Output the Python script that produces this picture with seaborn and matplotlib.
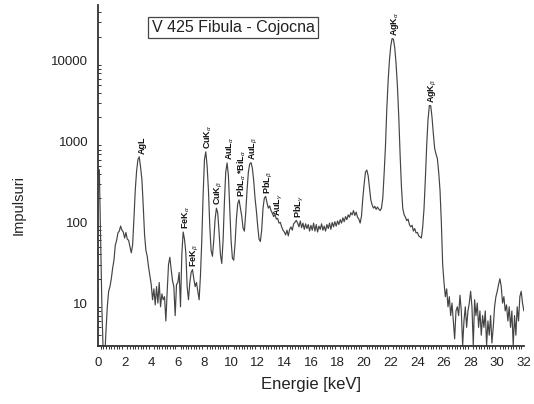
import numpy as np
import matplotlib
matplotlib.use("Agg")
import matplotlib.pyplot as plt
import matplotlib.ticker as mticker
import seaborn as sns

# channel calibration: 0.1 keV per channel starting at 0 keV
E_START = 0.0
E_STEP = 0.1

counts = [
    400, 450, 60, 8, 2.2, 2.0, 4.5, 9, 14, 16,            # 0.0-0.9
    20, 27, 34, 52, 60, 74, 78, 90, 80, 76,                # 1
    64, 75, 62, 60, 50, 42, 52, 110, 250, 430,             # 2
    600, 650, 480, 340, 160, 70, 45, 38, 28, 22,           # 3
    17, 11, 15, 9.5, 16, 10, 18, 9, 13, 11,                # 4
    12, 6, 14, 30, 37, 26, 19, 16, 7, 17,                  # 5
    18, 24, 9, 40, 76, 62, 42, 16, 11, 18,                 # 6
    24, 26, 20, 16, 18, 14, 11, 22, 60, 220,               # 7
    600, 750, 500, 250, 90, 45, 38, 60, 110, 150,          # 8
    130, 75, 40, 31, 60, 180, 420, 545, 380, 150,          # 9
    60, 36, 34, 55, 110, 170, 190, 150, 120, 85,           # 10
    78, 130, 250, 420, 530, 550, 470, 330, 200, 140,       # 11
    90, 62, 58, 80, 150, 200, 210, 175, 150, 160,          # 12
    140, 130, 118, 125, 110, 112, 98, 100, 88, 80,         # 13
    76, 70, 80, 68, 82, 88, 80, 96, 100, 106,              # 14
    98, 88, 104, 86, 98, 82, 96, 84, 94, 78,               # 15
    92, 80, 98, 78, 94, 76, 90, 82, 96, 80,                # 16
    90, 78, 94, 84, 98, 82, 100, 88, 102, 90,              # 17
    104, 94, 108, 98, 114, 102, 118, 108, 124, 116,        # 18
    132, 124, 140, 122, 134, 116, 110, 98, 120, 200,       # 19
    300, 420, 445, 380, 270, 190, 165, 150, 158, 145,      # 20
    155, 146, 140, 150, 200, 400, 870, 2500, 5600, 10200,  # 21
    15400, 19000, 18600, 14500, 9200, 4850, 2050, 700, 280, 150,  # 22
    125, 116, 105, 110, 94, 88, 92, 78, 84, 74,            # 23
    75, 68, 66, 64, 88, 150, 350, 900, 1900, 2800,         # 24
    2800, 2000, 1250, 820, 700, 620, 420, 250, 100, 30,    # 25
    18, 12, 15, 9, 12, 7, 10, 6, 3.6, 8,                   # 26
    9, 7, 12.5, 8, 3, 6, 9, 5, 8, 10,                      # 27
    14, 9, 3, 11, 7, 10, 5, 8, 4, 7,                       # 28
    5, 8, 3, 6, 4, 7, 3.2, 5, 9, 12,                       # 29
    14, 17, 20, 16, 10, 12, 8, 9.5, 6, 9,                  # 30
    5, 8, 3, 7, 4, 9, 6, 12, 14, 10,                       # 31
    8,                                                     # 32
]

peak_labels = [r"AgL", r"FeK$_\alpha$", r"FeK$_\beta$", r"CuK$_\alpha$", r"CuK$_\beta$",
               r"AuL$_\alpha$", r"PbL$_\alpha$ *BiL$_\alpha$", r"AuL$_\beta$", r"PbL$_\beta$",
               r"AuL$_\gamma$", r"PbL$_\gamma$", r"AgK$_\alpha$", r"AgK$_\beta$"]
peak_energies = [3.1, 6.4, 7.1, 8.1, 8.9, 9.7, 10.6, 11.5, 12.6, 13.4, 14.9, 22.1, 24.95]

x_ticks = [0, 2, 4, 6, 8, 10, 12, 14, 16, 18, 20, 22, 24, 26, 28, 30, 32]
y_ticks = [10, 100, 1000, 10000]
y_tick_labels = ["10", "100", "1000", "10000"]

title_text = "V 425 Fibula - Cojocna"
x_label = "Energie [keV]"
y_label = "Impulsuri"

sns.set_theme(style="white")
plt.rcParams["font.family"] = ["Liberation Sans", "DejaVu Sans"]
plt.rcParams["mathtext.fontset"] = "custom"
plt.rcParams["mathtext.rm"] = "Liberation Sans"
plt.rcParams["mathtext.it"] = "Liberation Sans:italic"
plt.rcParams["mathtext.bf"] = "Liberation Sans:bold"

energy = E_START + E_STEP * np.arange(len(counts))
counts_arr = np.array(counts, dtype=float)

fig = plt.figure(figsize=(5.34, 4.04), dpi=100)
ax = fig.add_axes([0.1835, 0.1436, 0.7975, 0.844])

sns.lineplot(x=energy, y=counts_arr, ax=ax, color="#444444", linewidth=0.85,
             estimator=None, sort=False)

ax.set_yscale("log")
ax.set_xlim(0, 32)
ax.set_ylim(2.94, 49400)

ax.xaxis.set_major_locator(mticker.FixedLocator(x_ticks))
ax.set_xticklabels([str(t) for t in x_ticks])
ax.xaxis.set_minor_locator(mticker.MultipleLocator(0.2))
ax.yaxis.set_major_locator(mticker.FixedLocator(y_ticks))
ax.set_yticklabels(y_tick_labels)
ax.yaxis.set_minor_locator(mticker.LogLocator(base=10, subs=np.arange(2, 10)))
ax.yaxis.set_minor_formatter(mticker.NullFormatter())

for s in ["top", "right"]:
    ax.spines[s].set_visible(False)
for s in ["left", "bottom"]:
    ax.spines[s].set_color("#333333")
    ax.spines[s].set_linewidth(1.3)

ax.tick_params(axis="both", which="major", labelsize=9.5, colors="#333333",
               labelcolor="#222222", length=4, width=1.0)
ax.tick_params(axis="x", which="major", direction="out", pad=4)
ax.tick_params(axis="x", which="minor", direction="out", length=2, width=0.7,
               colors="#333333", bottom=True)
ax.tick_params(axis="y", which="major", direction="out", pad=3)
ax.tick_params(axis="y", which="minor", direction="in", length=2.5, width=0.7,
               colors="#333333", left=True)

ax.set_xlabel(x_label, fontsize=12, color="#222222", labelpad=6)
ax.set_ylabel(y_label, fontsize=10.5, color="#222222")
ax.yaxis.set_label_coords(-0.17, 0.413)

for lab, e in zip(peak_labels, peak_energies):
    c = np.interp(e, energy, counts_arr)
    ax.annotate(lab, xy=(e, c), xytext=(2, 2), textcoords="offset points",
                rotation=90, ha="center", va="bottom", fontsize=6.5,
                fontweight="bold", color="#111111")

ax.text(0.317, 0.934, title_text, transform=ax.transAxes, ha="center", va="center",
        fontsize=11.5, color="#222222",
        bbox=dict(boxstyle="square,pad=0.2", facecolor="white",
                  edgecolor="#444444", linewidth=0.9))

fig.savefig("out.png", dpi=100)
